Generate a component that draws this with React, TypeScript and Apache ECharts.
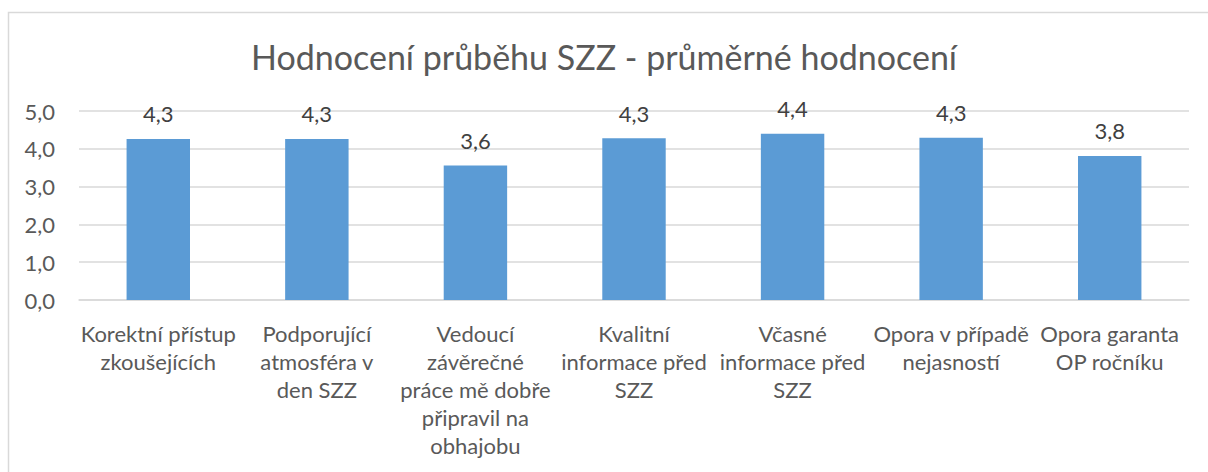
import React, { useEffect, useRef } from "react";
import * as echarts from "echarts";

const categories = [
  "Korektní přístup\nzkoušejících",
  "Podporující\natmosféra v\nden SZZ",
  "Vedoucí\nzávěrečné\npráce mě dobře\npřipravil na\nobhajobu",
  "Kvalitní\ninformace před\nSZZ",
  "Včasné\ninformace před\nSZZ",
  "Opora v případě\nnejasností",
  "Opora garanta\nOP ročníku",
];
const values = [4.26, 4.26, 3.56, 4.28, 4.4, 4.29, 3.81];
const titleText = "Hodnocení průběhu SZZ - průměrné hodnocení";

const fmt = (v: number) => (Math.round(v * 10) / 10).toFixed(1).replace(".", ",");
const FONT = "Lato, 'Open Sans', sans-serif";
const TXT = "#595959";

export default function App() {
  const ref = useRef<HTMLDivElement>(null);
  useEffect(() => {
    const chart = echarts.init(ref.current!, null, { renderer: "svg" });
    chart.setOption({
      animation: false,
      backgroundColor: "#ffffff",
      textStyle: { fontFamily: FONT },
      title: {
        text: titleText,
        left: "center",
        top: 34,
        textStyle: { fontFamily: FONT, fontSize: 34, fontWeight: "normal", color: TXT },
      },
      graphic: [
        {
          type: "rect",
          shape: { x: 8.5, y: 12.5, width: 1220, height: 480 },
          style: { fill: "none", stroke: "#d9d9d9", lineWidth: 1.5 },
          silent: true,
        },
      ],
      grid: { left: 79, right: 19, top: 111, bottom: 172, containLabel: false },
      xAxis: {
        type: "category",
        data: categories,
        axisLine: { show: true, lineStyle: { color: "#d9d9d9", width: 1.5 } },
        axisTick: { show: false },
        axisLabel: {
          interval: 0,
          color: TXT,
          fontFamily: FONT,
          fontSize: 22,
          lineHeight: 28,
          margin: 19,
          align: "center",
        },
      },
      yAxis: {
        type: "value",
        min: 0,
        max: 5,
        interval: 1,
        axisLine: { show: false },
        axisTick: { show: false },
        splitLine: { lineStyle: { color: "#d9d9d9", width: 1.5 } },
        axisLabel: {
          color: TXT,
          fontFamily: FONT,
          fontSize: 22,
          margin: 24,
          formatter: (v: number) => fmt(v),
        },
      },
      series: [
        {
          type: "bar",
          data: values,
          barWidth: "40%",
          itemStyle: { color: "#5b9bd5" },
          label: {
            show: true,
            position: "top",
            distance: 14,
            color: "#404040",
            fontFamily: FONT,
            fontSize: 22,
            formatter: (p: any) => fmt(p.value),
          },
        },
      ],
    });
    return () => chart.dispose();
  }, []);
  return (
    <div
      ref={ref}
      style={{ position: "absolute", left: 0, top: 0, width: 1208, height: 472 }}
    />
  );
}
